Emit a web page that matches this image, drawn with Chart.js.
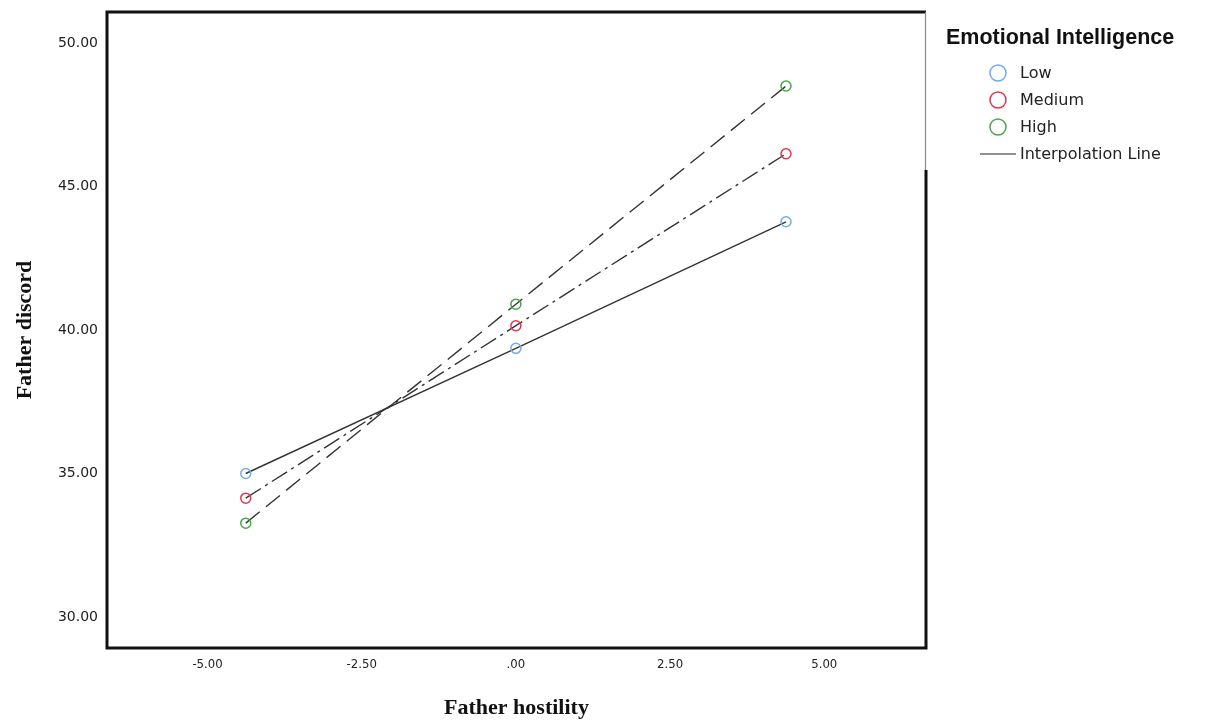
<!DOCTYPE html>
<html>
<head>
<meta charset="utf-8">
<script src="https://cdn.jsdelivr.net/npm/chart.js@4.4.1/dist/chart.umd.min.js"></script>
<style>
    html, body { margin: 0; padding: 0; background: #fff; }
    #wrap { width: 1217px; height: 722px; }
</style>
</head>
<body>
<div id="wrap"><canvas id="slopes"></canvas></div>
<script>
const groups = ['Low', 'Medium', 'High']
const hostility = [-4.38, 0, 4.38]
const lowDiscord = [35.0, 39.36, 43.77]
const mediumDiscord = [34.14, 40.15, 46.14]
const highDiscord = [33.27, 40.9, 48.5]
const xTicks = [-5, -2.5, 0, 2.5, 5]
const yTicks = [30, 35, 40, 45, 50]
const legendTitle = 'Emotional Intelligence'
const lineLabel = 'Interpolation Line'

const pointColors = ['#74aaf2', '#e6344f', '#4aa64a']
const dashes = [[], [18, 5, 3, 5], [18, 8]]

const fmt = (v) => {
    const s = Number(v).toFixed(2)
    return s.replace(/^0\./, '.').replace(/^-0\./, '-.')
}

const toPoints = (ys) => hostility.map((x, i) => ({ x: x, y: ys[i] }))
const series = [lowDiscord, mediumDiscord, highDiscord]

// frame round the plot area
const framePlugin = {
    id: 'frame',
    afterDraw(chart) {
        const { ctx, chartArea: a } = chart
        ctx.save()
        ctx.strokeStyle = '#111'
        ctx.lineWidth = 3
        ctx.beginPath()
        ctx.moveTo(a.right, a.top + 158)
        ctx.lineTo(a.right, a.bottom)
        ctx.lineTo(a.left, a.bottom)
        ctx.lineTo(a.left, a.top)
        ctx.lineTo(a.right, a.top)
        ctx.stroke()
        ctx.strokeStyle = '#888'
        ctx.lineWidth = 1.2
        ctx.beginPath()
        ctx.moveTo(a.right - 0.5, a.top)
        ctx.lineTo(a.right - 0.5, a.top + 158)
        ctx.stroke()
        ctx.restore()
    },
}

// legend on the right, SPSS style
const legendPlugin = {
    id: 'sideLegend',
    afterDraw(chart) {
        const { ctx, chartArea: a } = chart
        const x0 = a.right + 20
        ctx.save()
        ctx.fillStyle = '#111'
        ctx.textBaseline = 'alphabetic'
        ctx.font = 'bold 21.5px "Liberation Sans", Arial, sans-serif'
        ctx.fillText(legendTitle, x0, 44)
        ctx.font = '16px "DejaVu Sans", sans-serif'
        ctx.textBaseline = 'middle'
        chart.data.datasets.forEach((ds, i) => {
            const y = 73 + i * 27
            ctx.strokeStyle = ds.pointBorderColor
            ctx.lineWidth = 1.5
            ctx.beginPath()
            ctx.arc(x0 + 52, y, 8, 0, Math.PI * 2)
            ctx.stroke()
            ctx.fillStyle = '#222'
            ctx.fillText(ds.label, x0 + 74, y + 1)
        })
        const y = 73 + 3 * 27
        ctx.strokeStyle = '#222'
        ctx.lineWidth = 1.2
        ctx.beginPath()
        ctx.moveTo(x0 + 34, y)
        ctx.lineTo(x0 + 70, y)
        ctx.stroke()
        ctx.fillText(lineLabel, x0 + 74, y + 1)
        ctx.restore()
    },
}

const chart = new Chart(document.getElementById('slopes').getContext('2d'), {
    type: 'scatter',
    data: {
        datasets: groups.map((g, i) => ({
            label: g,
            data: toPoints(series[i]),
            showLine: true,
            borderColor: '#333',
            borderWidth: 1.4,
            borderDash: dashes[i],
            pointRadius: 5,
            pointBorderWidth: 1.5,
            pointBorderColor: pointColors[i],
            pointBackgroundColor: 'rgba(0,0,0,0)',
            pointHoverRadius: 5,
        })),
    },
    options: {
        responsive: true,
        maintainAspectRatio: false,
        animation: false,
        layout: {
            padding: { left: 0, right: 291, top: 12, bottom: 0 },
        },
        plugins: {
            legend: { display: false },
            tooltip: { enabled: false },
        },
        scales: {
            x: {
                type: 'linear',
                min: -6.63,
                max: 6.65,
                grid: { display: false, drawTicks: false },
                border: { display: false },
                afterBuildTicks: (s) => {
                    s.ticks = xTicks.map((v) => ({ value: v }))
                },
                afterFit: (s) => {
                    s.height = 74
                    s.paddingLeft = 0
                    s.paddingRight = 0
                },
                ticks: {
                    padding: 9,
                    color: '#222',
                    font: { family: '"DejaVu Sans Condensed", "DejaVu Sans", sans-serif', size: 13 },
                    callback: (v) => fmt(v),
                },
                title: {
                    display: true,
                    text: 'Father hostility',
                    color: '#111',
                    padding: { top: 0, bottom: 0 },
                    font: { family: '"Liberation Serif", "Times New Roman", serif', size: 22, weight: 'bold' },
                },
            },
            y: {
                type: 'linear',
                min: 28.92,
                max: 51.08,
                grid: { display: false, drawTicks: false },
                border: { display: false },
                afterBuildTicks: (s) => {
                    s.ticks = yTicks.map((v) => ({ value: v }))
                },
                afterFit: (s) => {
                    s.width = 107
                    s.paddingTop = 0
                    s.paddingBottom = 0
                },
                ticks: {
                    padding: 9,
                    color: '#222',
                    font: { family: '"DejaVu Sans", sans-serif', size: 14 },
                    callback: (v) => fmt(v),
                },
                title: {
                    display: true,
                    text: 'Father discord',
                    color: '#111',
                    padding: { top: 12, bottom: 0 },
                    font: { family: '"Liberation Serif", "Times New Roman", serif', size: 22, weight: 'bold' },
                },
            },
        },
    },
    plugins: [framePlugin, legendPlugin],
})
</script>
</body>
</html>
